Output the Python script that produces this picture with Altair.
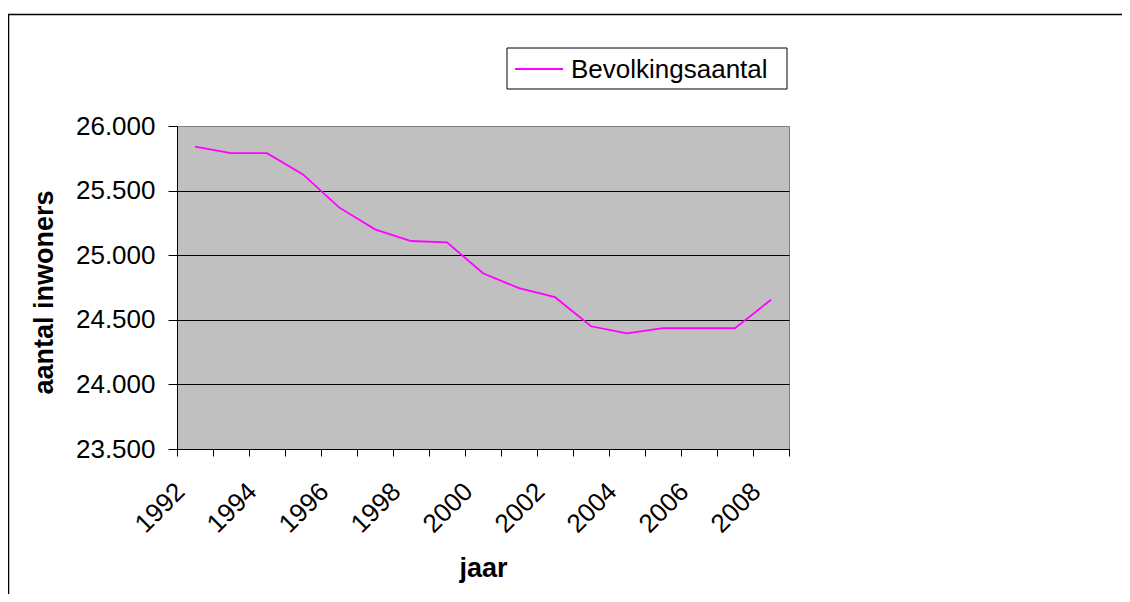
import altair as alt
import pandas as pd

years = list(range(1992, 2009))
population = [25840, 25790, 25790, 25625, 25370, 25200, 25110, 25100, 24860,
              24745, 24675, 24450, 24395, 24435, 24435, 24435, 24655]
y_ticks = [23500, 24000, 24500, 25000, 25500, 26000]
series_name = "Bevolkingsaantal"
x_title = "jaar"
y_title = "aantal inwoners"

FONT = "Liberation Sans"
LINE_COLOR = "#FF00FF"

df = pd.DataFrame({"jaar": years, "inwoners": population})
legend_df = pd.DataFrame({"label": [series_name]})

x_enc = alt.X(
    "jaar:O",
    scale=alt.Scale(type="band", paddingInner=0, paddingOuter=0),
    bandPosition=0.5,
    axis=alt.Axis(
        title=x_title,
        labelAngle=-45,
        labelAlign="right",
        labelBaseline="top",
        labelOffset=-24,
        labelPadding=22,
        labelFont=FONT,
        labelFontSize=26,
        labelColor="black",
        labelOverlap=False,
        labelExpr="datum.value % 2 == 0 ? datum.label : ''",
        tickBand="extent",
        tickSize=7,
        tickColor="black",
        domainColor="black",
        grid=False,
        titleFont=FONT,
        titleFontSize=27,
        titleFontWeight="bold",
        titleColor="black",
        titleX=306,
        titleY=127,
        titleAlign="center",
        titleBaseline="alphabetic",
    ),
)

y_enc = alt.Y(
    "inwoners:Q",
    scale=alt.Scale(domain=[23500, 26000], nice=False, zero=False),
    axis=alt.Axis(
        title=y_title,
        values=y_ticks,
        labelExpr="replace(format(datum.value, ','), ',', '.')",
        labelFont=FONT,
        labelFontSize=26,
        labelColor="black",
        labelPadding=13,
        tickSize=9,
        tickColor="black",
        domainColor="black",
        grid=True,
        gridColor={"condition": {"test": "datum.value == 26000", "value": "#808080"}, "value": "black"},
        gridWidth=1,
        titleFont=FONT,
        titleFontSize=27,
        titleFontWeight="bold",
        titleColor="black",
        titleAngle=-90,
        titleX=-125,
        titleY=166,
        titleAlign="center",
        titleBaseline="alphabetic",
    ),
)

line = alt.Chart(df).mark_line(color=LINE_COLOR, strokeWidth=1.8, clip=False).encode(
    x=x_enc, y=y_enc
)

frame = alt.Chart(legend_df).mark_rect(
    filled=False, stroke="black", strokeWidth=1.5
).encode(
    x=alt.value(-168.5), x2=alt.value(2000), y=alt.value(-111.5), y2=alt.value(2000)
)

legend_box = alt.Chart(legend_df).mark_rect(
    fill="white", stroke="black", strokeWidth=1
).encode(
    x=alt.value(330), x2=alt.value(610), y=alt.value(-78), y2=alt.value(-37)
)

legend_line = alt.Chart(legend_df).mark_rule(color=LINE_COLOR, strokeWidth=1.8).encode(
    x=alt.value(338), x2=alt.value(386), y=alt.value(-57)
)

legend_text = alt.Chart(legend_df).mark_text(
    align="left", baseline="middle", font=FONT, fontSize=26, color="black"
).encode(
    x=alt.value(394), y=alt.value(-56), text="label:N"
)

chart = alt.layer(frame, line, legend_box, legend_line, legend_text).properties(
    width=612,
    height=323,
    autosize=alt.AutoSizeParams(type="none"),
    padding={"left": 169, "top": 118, "right": 333, "bottom": 145},
    background="white",
).configure_view(
    fill="#C0C0C0", stroke="#808080", strokeWidth=1
)

chart.save("out.html", embed_options={"renderer": "svg", "actions": False})
